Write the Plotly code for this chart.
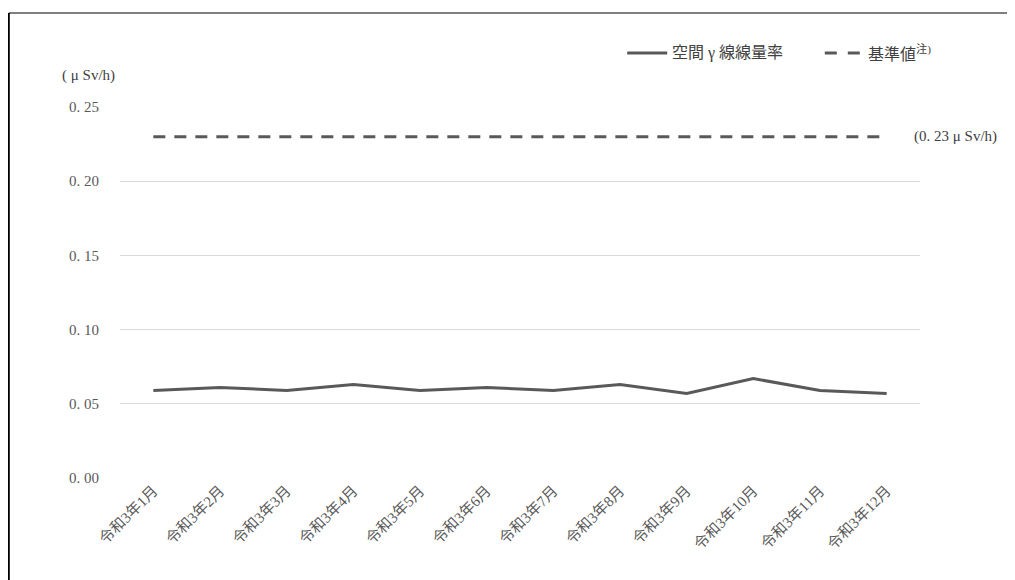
import plotly.graph_objects as go

## Data
months = ["令和3年1月", "令和3年2月", "令和3年3月", "令和3年4月", "令和3年5月", "令和3年6月",
          "令和3年7月", "令和3年8月", "令和3年9月", "令和3年10月", "令和3年11月", "令和3年12月"]
dose_rate = [0.059, 0.061, 0.059, 0.063, 0.059, 0.061, 0.059, 0.063, 0.057, 0.067, 0.059, 0.057]
standard = [0.23] * 12
y_ticks = [0.00, 0.05, 0.10, 0.15, 0.20, 0.25]
y_tick_text = ["0. 00", "0. 05", "0. 10", "0. 15", "0. 20", "0. 25"]
series_names = ["空間 γ 線線量率", "基準値<sup>注)</sup>"]

FONT = "Liberation Serif, Noto Sans CJK JP, serif"
GREY = "#595959"
TEXT = "#404040"

fig = go.Figure()

fig.add_trace(go.Scatter(
    x=months, y=dose_rate, mode="lines",
    line=dict(color=GREY, width=3),
    name=series_names[0], showlegend=False
))

fig.add_trace(go.Scatter(
    x=months, y=standard, mode="lines",
    line=dict(color=GREY, width=3, dash="12px,9px"),
    name=series_names[1], showlegend=False
))

## Legend drawn by hand so it doesn't push the margins
leg_y = 1.1456
fig.add_shape(type="line", xref="paper", yref="paper",
              x0=0.634, x1=0.684, y0=leg_y, y1=leg_y,
              line=dict(color=GREY, width=3))
fig.add_annotation(x=0.6875, xref="paper", xanchor="left",
                   y=leg_y, yref="paper", yanchor="middle",
                   text=series_names[0], showarrow=False,
                   font=dict(family=FONT, size=16, color=TEXT))
fig.add_shape(type="line", xref="paper", yref="paper",
              x0=0.881, x1=0.9275, y0=leg_y, y1=leg_y,
              line=dict(color=GREY, width=3, dash="12px,11px"))
fig.add_annotation(x=0.9325, xref="paper", xanchor="left",
                   y=leg_y, yref="paper", yanchor="middle",
                   text=series_names[1], showarrow=False,
                   font=dict(family=FONT, size=16, color=TEXT))

## Label at the right end of the standard line
fig.add_annotation(
    x=0.99, xref="paper", xanchor="left",
    y=0.23, yref="y", yanchor="middle",
    text="(0. 23 μ Sv/h)", showarrow=False,
    font=dict(family=FONT, size=15, color=TEXT)
)

## Unit label above the y axis
fig.add_annotation(
    x=-0.04, xref="paper", xanchor="center",
    y=1.086, yref="paper", yanchor="middle",
    text="( μ Sv/h)", showarrow=False,
    font=dict(family=FONT, size=15, color=TEXT)
)

## Outer frame (top and left edges visible)
fig.add_shape(type="line", xref="paper", yref="paper",
              x0=-0.139, x1=1.2, y0=1.2534, y1=1.2534,
              line=dict(color="#7f7f7f", width=2))
fig.add_shape(type="line", xref="paper", yref="paper",
              x0=-0.139, x1=-0.139, y0=1.2534, y1=-0.3,
              line=dict(color="#000000", width=2))

fig.update_layout(
    template="none",
    width=1015, height=580,
    margin=dict(l=112, r=103, t=99, b=110, autoexpand=False),
    plot_bgcolor="white",
    paper_bgcolor="white",
    font=dict(family=FONT, size=13, color=TEXT),
    showlegend=False,
    xaxis=dict(
        type="category", showgrid=False, zeroline=False, showline=False,
        automargin=False, tickangle=-45, ticks="",
        tickfont=dict(family=FONT, size=15, color=GREY),
        range=[-0.5, 11.5]
    ),
    yaxis=dict(
        range=[0, 0.25], tickvals=y_ticks, ticktext=y_tick_text,
        showgrid=True, gridcolor="#d9d9d9", gridwidth=1,
        zeroline=False, showline=False, ticks="", automargin=False,
        ticklabelstandoff=20,
        tickfont=dict(family=FONT, size=15, color=GREY)
    )
)

fig.write_html("out.html")
